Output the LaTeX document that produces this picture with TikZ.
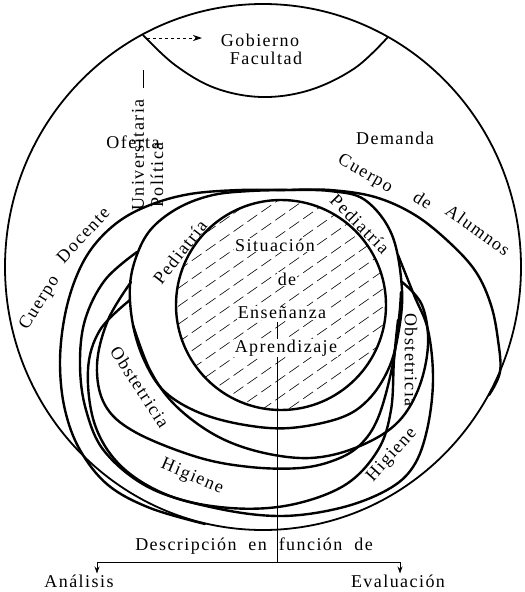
\documentclass[tikz,border=0pt]{standalone}
\usepackage{fontspec}
\setmainfont{Liberation Serif}[LetterSpace=8]
\usetikzlibrary{arrows.meta}
\begin{document}
\begin{tikzpicture}[x=1pt,y=-1pt,
  outerline/.style={line width=1.8pt},
  loopline/.style={line width=2.4pt, line join=round, line cap=round},
  hatchline/.style={line width=0.6pt, dash pattern=on 12pt off 5pt},
  lbl/.style={font=\fontsize{18}{20}\selectfont, inner sep=1pt},
  clbl/.style={lbl, fill=white},
  thinline/.style={line width=0.8pt}
]
\useasboundingbox (0,0) rectangle (525,592);
% outer circle
\draw[outerline] (263,267) ellipse [x radius=258, y radius=263];
% Gobierno lens
\draw[outerline] plot[smooth, tension=0.6] coordinates {(143,35) (175,65) (215,88) (262,97) (310,90) (355,68) (388,37)};
% Cuerpo Docente
\draw[loopline] plot[smooth, tension=0.6] coordinates {(290,190) (240,190) (190,194) (150,205) (118,222) (92,248) (75,280) (64,320) (60,365) (65,410) (80,450) (108,485) (150,508) (205,524)};
% Cuerpo de Alumnos
\draw[loopline] plot[smooth, tension=0.6] coordinates {(290,190) (330,190) (375,197) (415,215) (450,243) (476,272) (491,305) (498,340) (500,372) (489,395)};
% hatched circle
\begin{scope}
  \clip (281,305) circle [radius=105];
  \foreach \c in {200,218,...,660} \draw[hatchline] (150,\c) -- (420,\c-189);
\end{scope}
\draw[loopline] (281,305) circle [radius=105];
% Pediatria loop
\draw[loopline] plot[smooth, tension=0.6] coordinates {(290,190) (250,191) (213,195) (180,207) (153,227) (138,252) (130,285) (133,325) (145,362) (165,392) (200,413) (245,425) (290,428) (340,418) (368,400) (388,370) (398,335) (402,290) (392,235) (365,200) (330,191) (290,190)};
% Obstetricia (inner) curve
\draw[loopline] plot[smooth, tension=0.6] coordinates {(131,282) (108,320) (97,365) (105,405) (135,432) (197,457) (250,467) (300,468) (335,460) (360,445) (378,418) (392,368) (399,318) (401,292)};
% Higiene (outer) curve
\draw[loopline] plot[smooth, tension=0.6] coordinates {(137,252) (105,280) (85,320) (80,365) (86,410) (105,452) (150,488) (215,508) (280,516) (340,508) (387,490) (413,467) (427,430) (433,380) (428,330) (414,295) (398,255)};
% crossing curves
\draw[loopline] plot[smooth, tension=0.6] coordinates {(133,325) (150,370) (175,405) (215,435) (260,452) (310,458) (355,448) (395,425) (418,390) (428,345) (422,305) (402,282)};
\draw[loopline] plot[smooth, tension=0.6] coordinates {(130,300) (100,330) (88,370) (95,425) (122,467) (170,496) (230,508) (290,505) (345,485) (378,450) (391,410) (394,360) (398,320)};
% vertical line and bracket
\coordinate (vtop) at (277,322);
\coordinate (jn) at (277,562);
\coordinate (bl) at (97,562);
\coordinate (br) at (400,562);
\draw[thinline] (vtop) -- (jn);
\draw[thinline] (bl) -- (br);
% texts
\node[lbl] (gob) at (260,40) {Gobierno};
\node[lbl] (fac) at (266,58) {Facultad};
\node[lbl] (ofe) at (133,142) {Oferta};
\node[lbl] (dem) at (395,138) {Demanda};
\node[lbl, rotate=90] (uni) at (138,155) {Universitaria};
\node[lbl, rotate=90] (pol) at (157,175) {Política};
\node[lbl, rotate=58] (cu1) at (40,303) {Cuerpo};
\node[lbl, rotate=47] (doc) at (83,235) {Docente};
\node[lbl, rotate=-30] (cu2) at (365,174) {Cuerpo};
\node[lbl, rotate=-33] (de2) at (423,200) {de};
\node[lbl, rotate=-36] (alu) at (478,230) {Alumnos};
\node[lbl, rotate=52] (ped1) at (180,252) {Pediatría};
\node[lbl, rotate=-45] (ped2) at (360,224) {Pediatría};
\node[clbl] (sit) at (275,245) {Situación};
\node[clbl] (de1) at (287,279) {de};
\node[clbl] (ens) at (282,313) {Enseñanza};
\node[clbl] (apr) at (286,348) {Aprendizaje};
\node[lbl, rotate=-57] (obs1) at (140,387) {Obstetricia};
\node[lbl, rotate=-90] (obs2) at (411,360) {Obstetricia};
\node[lbl, rotate=-23] (hig1) at (192,477) {Higiene};
\node[lbl, rotate=48] (hig2) at (392,455) {Higiene};
\node[lbl] (desc) at (254,546) {Descripción~~en~~función~~de};
\node[lbl] (ana) at (79,581) {Análisis};
\node[lbl] (eva) at (398,581) {Evaluación};
% arrows
\draw[thinline, -{Stealth[length=7pt,width=5pt]}] (bl) -- (bl |- ana.north);
\draw[thinline, -{Stealth[length=7pt,width=5pt]}] (br) -- (br |- eva.north);
\coordinate (ga) at (147,38);
\coordinate (gb) at (202,38);
\draw[thinline, dashed, -{Stealth[length=9pt,width=6pt]}] (ga) -- (gb);
\coordinate (ua) at (143,70);
\coordinate (ub) at (143,88);
\draw[thinline] (ua) -- (ub);
\end{tikzpicture}
\end{document}
